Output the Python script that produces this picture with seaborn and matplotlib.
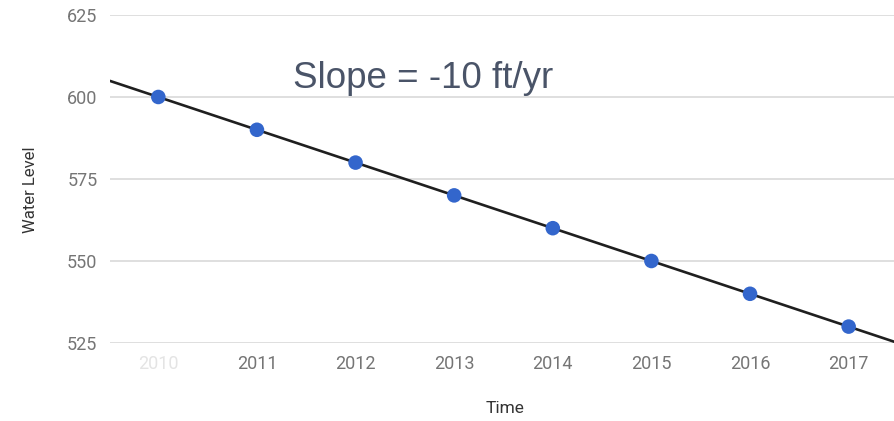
import numpy as np
import pandas as pd
import seaborn as sns
import matplotlib.pyplot as plt

# Water level readings by year
years = [2010, 2011, 2012, 2013, 2014, 2015, 2016, 2017]
water_level = [600, 590, 580, 570, 560, 550, 540, 530]
year_labels = ["2010", "2011", "2012", "2013", "2014", "2015", "2016", "2017"]
y_ticks = [525, 550, 575, 600, 625]

df = pd.DataFrame({"Time": years, "Water Level": water_level})

sns.set_theme(style="white")
plt.rcParams["font.family"] = ["Roboto", "DejaVu Sans"]

fig = plt.figure(figsize=(8.95, 4.21), dpi=100)
ax = fig.add_axes([0.1229, 0.1853, 0.8771, 0.7791])

ax.set_xlim(2009.51, 2017.47)
ax.set_ylim(525, 625)

# grid lines
for y in y_ticks:
    ax.axhline(y, color="#d9d9d9", lw=1.2, zorder=0)

# fitted trend line extends across the whole axis
sns.regplot(data=df, x="Time", y="Water Level", ax=ax, ci=None, truncate=False,
            scatter=False, line_kws={"color": "#1f1f1f", "lw": 1.9, "zorder": 2})
sns.scatterplot(data=df, x="Time", y="Water Level", ax=ax, color="#3366cc",
                s=110, edgecolor="none", zorder=3, clip_on=False)

ax.set_xlim(2009.51, 2017.47)
ax.set_ylim(525, 625)

ax.set_xticks(years)
ax.set_xticklabels(year_labels)
ax.set_yticks(y_ticks)
ax.tick_params(axis="both", length=0, labelsize=13, colors="#757575")
ax.tick_params(axis="x", pad=9)
ax.tick_params(axis="y", pad=9)
ax.get_xticklabels()[0].set_color("#e4e4e4")

for s in ax.spines.values():
    s.set_visible(False)

ax.set_xlabel("Time", fontsize=12.5, color="#333333")
ax.set_ylabel("Water Level", fontsize=12, color="#333333")
ax.xaxis.set_label_coords(0.503, -0.177)
ax.yaxis.set_label_coords(-0.092, 0.466)

ax.text(2011.37, 602.7, "Slope = -10 ft/yr", fontsize=26.5, color="#4a5468",
        family=["Liberation Sans", "DejaVu Sans"], ha="left", va="baseline")

fig.savefig("out.png", dpi=100)
